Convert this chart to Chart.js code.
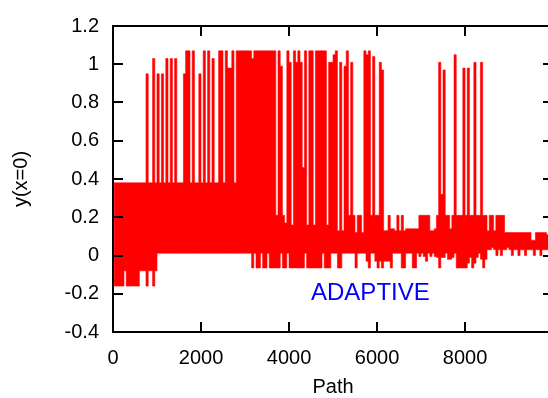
<!DOCTYPE html>
<html><head><meta charset="utf-8">
<script src="https://cdn.jsdelivr.net/npm/chart.js@4.4.1/dist/chart.umd.min.js"></script>
<style>html,body{margin:0;padding:0;overflow:hidden;background:#fff}#wrap{width:560px;height:398px;position:relative}</style>
</head><body><div id="wrap"><canvas id="c" width="560" height="398"></canvas></div>
<script>
// Each bin covers 50 paths; per bin the upper and lower envelope of y(x=0)
const binSize = 50;
const highs = [
0.38,0.38,0.38,0.38,0.38,0.38,0.38,0.38,0.38,0.38,
0.38,0.38,0.38,0.38,0.38,0.95,0.38,0.38,1.03,0.38,
0.95,0.38,0.95,0.38,1.03,0.38,1.03,0.38,1.03,0.38,
0.38,0.38,0.95,1.07,1.07,0.38,1.07,0.38,0.38,0.95,
0.38,1.07,0.38,1.07,0.38,1.03,0.38,0.38,1.07,1.07,
0.38,1.07,0.98,0.98,1.07,0.38,1.07,1.07,1.07,1.07,
1.07,1.07,1.07,1.03,1.07,1.07,1.07,1.07,1.07,1.07,
1.07,1.07,1.07,1.07,0.21,1.07,0.99,0.21,0.17,1.07,
1.01,0.16,1.07,1.01,1.07,1.01,0.46,1.07,0.16,1.07,
1.07,0.16,1.07,1.07,1.07,1.07,1.07,0.16,1.01,1.01,
1.05,1.07,0.13,1.01,0.13,0.99,1.07,0.21,1.01,0.21,
0.12,0.21,0.21,0.12,1.07,1.05,1.07,0.21,1.04,0.21,
0.21,1.01,0.97,0.13,0.13,0.21,0.14,0.14,0.13,0.21,
0.13,0.21,0.13,0.14,0.14,0.14,0.14,0.14,0.14,0.21,
0.21,0.21,0.21,0.21,0.13,0.13,0.14,0.21,1.01,0.32,
0.97,0.21,0.21,0.14,0.21,1.05,0.21,0.21,0.21,0.98,
0.21,0.98,0.21,0.21,1.01,0.21,0.21,1.01,0.21,0.21,
0.13,0.21,0.21,0.13,0.21,0.21,0.21,0.21,0.12,0.12,
0.12,0.12,0.12,0.12,0.12,0.12,0.12,0.12,0.12,0.12,
0.08,0.08,0.12,0.12,0.12,0.12,0.12,0.11,0.11,0.11
];
const lows = [
-0.16,-0.16,-0.16,-0.16,-0.16,-0.08,-0.16,-0.16,-0.16,-0.16,
-0.16,-0.16,-0.08,-0.08,-0.08,-0.16,-0.08,-0.08,-0.16,-0.08,
0.012,0.012,0.012,0.012,0.012,0.012,0.012,0.012,0.012,0.012,
0.012,0.012,0.012,0.012,0.012,0.012,0.012,0.012,0.012,0.012,
0.012,0.012,0.012,0.012,0.012,0.012,0.012,0.012,0.012,0.012,
0.012,0.012,0.012,0.012,0.012,0.012,0.012,0.012,0.012,0.012,
0.012,0.012,0.012,-0.065,0.012,-0.065,-0.065,0.012,-0.065,-0.065,
0.012,-0.065,-0.065,-0.065,-0.065,-0.065,0.012,-0.065,-0.065,0.012,
-0.065,-0.065,-0.065,-0.065,-0.065,-0.065,-0.065,0.012,-0.065,-0.065,
-0.065,-0.065,-0.065,-0.065,-0.065,0.012,-0.065,-0.065,-0.065,0.012,
0.012,0.012,-0.065,-0.065,0.012,0.012,0.012,0.012,0.012,0.012,
-0.065,0.012,0.012,0.012,0.012,-0.03,-0.065,0.012,0.012,-0.03,
-0.065,-0.03,-0.065,-0.03,-0.03,-0.03,-0.065,0.012,0.012,0.012,
0.012,-0.065,-0.065,0.012,0.012,0.012,-0.065,-0.065,0.012,-0.005,
0.012,-0.005,-0.03,0.012,-0.005,0.012,-0.005,-0.01,-0.065,-0.01,
-0.01,0.012,-0.02,-0.02,-0.01,0.012,-0.065,-0.065,-0.065,-0.065,
-0.065,-0.04,-0.01,-0.065,-0.04,-0.01,0.012,-0.02,-0.065,-0.02,
0.03,0.03,0.04,0.03,0.0,0.03,0.0,0.03,0.03,0.04,
0.03,0.0,0.03,0.03,0.0,0.03,0.03,0.0,0.03,0.03,
0.03,0.0,0.03,0.03,0.0,0.03,0.03,0.03,0.03,0.03
];
const xTickValues = [0, 2000, 4000, 6000, 8000];
const yTickValues = [-0.4, -0.2, 0, 0.2, 0.4, 0.6, 0.8, 1, 1.2];
const xRange = [0, 9999];
const yRange = [-0.4, 1.2];
const labelText = 'ADAPTIVE';
const labelAt = [4500, -0.2];

const highPts = highs.map((v, i) => ({x: i * binSize + binSize / 2, y: v}));
const lowPts = lows.map((v, i) => ({x: i * binSize + binSize / 2, y: v}));

const FONT = "'Liberation Sans', Arial, sans-serif";

const framePlugin = {
  id: 'frame',
  afterDatasetsDraw(chart) {
    const {ctx, chartArea: a, scales} = chart;
    ctx.save();
    ctx.strokeStyle = '#000';
    ctx.lineWidth = 2;
    ctx.strokeRect(a.left, a.top, a.right - a.left, a.bottom - a.top);
    ctx.beginPath();
    const L = 10;
    scales.y.ticks.forEach(t => {
      const py = Math.round(scales.y.getPixelForValue(t.value));
      ctx.moveTo(a.left, py); ctx.lineTo(a.left + L, py);
      ctx.moveTo(a.right, py); ctx.lineTo(a.right - L, py);
    });
    scales.x.ticks.forEach(t => {
      const px = Math.round(scales.x.getPixelForValue(t.value));
      ctx.moveTo(px, a.bottom); ctx.lineTo(px, a.bottom - L);
      ctx.moveTo(px, a.top); ctx.lineTo(px, a.top + L);
    });
    ctx.stroke();
    ctx.fillStyle = '#0000ff';
    ctx.font = '24px ' + FONT;
    ctx.textAlign = 'left';
    ctx.textBaseline = 'middle';
    ctx.fillText(labelText, scales.x.getPixelForValue(labelAt[0]), scales.y.getPixelForValue(labelAt[1]));
    ctx.restore();
  }
};

new Chart(document.getElementById('c'), {
  type: 'line',
  data: {datasets: [
    {data: highPts, stepped: 'middle', borderColor: '#ff0000', borderWidth: 0.6,
     backgroundColor: '#ff0000', fill: '+1', pointRadius: 0},
    {data: lowPts, stepped: 'middle', borderColor: '#ff0000', borderWidth: 0.6,
     fill: false, pointRadius: 0}
  ]},
  options: {
    responsive: false,
    animation: false,
    devicePixelRatio: 1,
    layout: {padding: {left: 0, top: 19, right: 7, bottom: 0}},
    plugins: {legend: {display: false}, tooltip: {enabled: false}},
    scales: {
      x: {
        type: 'linear', min: xRange[0], max: xRange[1],
        grid: {display: false, drawTicks: false},
        border: {display: false},
        afterBuildTicks: s => { s.ticks = xTickValues.map(v => ({value: v})); },
        ticks: {maxRotation: 0, autoSkip: false, color: '#000', padding: 14,
                font: {family: FONT, size: 20}, callback: v => String(v)},
        title: {display: true, text: 'Path', color: '#000', font: {family: FONT, size: 20, lineHeight: 1.2},
                padding: {top: 0, bottom: -1}},
        afterFit: s => { s.height = 66; }
      },
      y: {
        min: yRange[0], max: yRange[1],
        grid: {display: false, drawTicks: false},
        border: {display: false},
        afterBuildTicks: s => { s.ticks = yTickValues.map(v => ({value: v})); },
        ticks: {color: '#000', padding: 14, font: {family: FONT, size: 20},
                callback: v => String(Math.round(v * 10) / 10)},
        title: {display: true, text: 'y(x=0)', color: '#000', font: {family: FONT, size: 20, lineHeight: 1.2},
                padding: {top: 9, bottom: 0}},
        afterFit: s => { s.width = 113; }
      }
    }
  },
  plugins: [framePlugin]
});
</script>
</body></html>
